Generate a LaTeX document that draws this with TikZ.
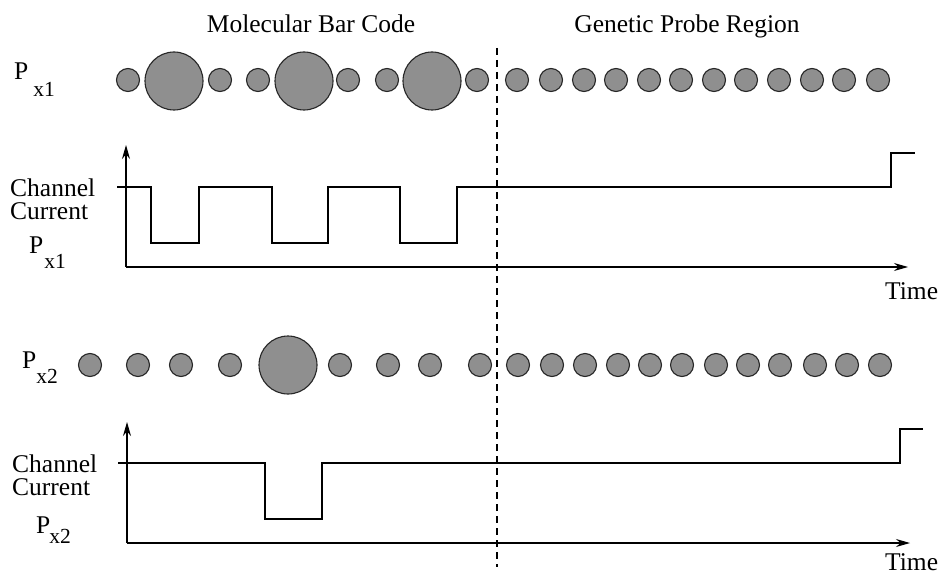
\documentclass[tikz,border=0pt]{standalone}
\usepackage{fontspec}
\setmainfont{Liberation Serif}
\usetikzlibrary{arrows.meta}
\definecolor{beadgray}{gray}{0.56}
\begin{document}
\begin{tikzpicture}[x=1pt,y=-1pt,
  txt/.style={inner sep=0pt,font=\fontsize{25.5}{28}\selectfont},
  bead/.style={circle,draw=black!85,line width=1.1pt,fill=beadgray,inner sep=0pt,minimum size=23pt},
  bigbead/.style={bead,minimum size=58pt},
  trace/.style={line width=1.2pt,line join=miter},
  axis/.style={line width=1.2pt,-{Stealth[length=14pt,width=8pt]}},
  divider/.style={line width=1.1pt,dash pattern=on 7pt off 5pt}]
\useasboundingbox (0,0) rectangle (941,575);
% subscript set a little smaller and dropped below the baseline
\newcommand{\lowsub}[2]{\raisebox{-#1}{\fontsize{21.5}{22}\selectfont #2}}

% region headings
\node[txt,anchor=base] (hbar) at (311,33) {Molecular Bar Code};
\node[txt,anchor=base] (hprobe) at (687,33) {Genetic Probe Region};

% divider between bar code and probe region
\coordinate (dtop) at (497,48);
\coordinate (dbot) at (497,567);
\draw[divider] (dtop) -- (dbot);

% ---------- molecule P_x1 ----------
\node[txt,anchor=base west] (p1) at (14,80) {P\hspace{5pt}\lowsub{17pt}{x1}};
\foreach \x [count=\i] in {128,220,258,348,387,477,517,551,584,616,649,681,714,746,779,812,844,878}
  \node[bead] (a\i) at (\x,80) {};
\foreach \x [count=\i] in {174,304,432}
  \node[bigbead] (A\i) at (\x,81) {};

% channel current trace for P_x1
\node[txt,anchor=base west] (ch1) at (10,196) {Channel};
\node[txt,anchor=base west] (cu1) at (10,219) {Current};
\node[txt,anchor=base west] (q1) at (29,253) {P\hspace{1pt}\lowsub{15pt}{x1}};
\coordinate (o1) at (126,267);
\coordinate (y1) at (126,145);
\coordinate (x1) at (908,267);
\draw[axis] (o1) -- (y1);
\draw[axis] (o1) -- (x1);
\node[txt,anchor=base west] (t1) at (885,299) {Time};
\draw[trace] (117,187) -- (151,187) -- (151,243) -- (199,243) -- (199,187)
  -- (272,187) -- (272,243) -- (328,243) -- (328,187) -- (400,187)
  -- (400,243) -- (457,243) -- (457,187) -- (891,187) -- (891,153) -- (915,153);

% ---------- molecule P_x2 ----------
\node[txt,anchor=base west] (p2) at (22,368) {P\hspace{0pt}\lowsub{15pt}{x2}};
\foreach \x [count=\i] in {90,138,181,230,340,388,430,480,518,552,585,618,650,682,716,748,780,815,847,880}
  \node[bead] (b\i) at (\x,365) {};
\node[bigbead] (B1) at (288,365) {};

% channel current trace for P_x2
\node[txt,anchor=base west] (ch2) at (12,472) {Channel};
\node[txt,anchor=base west] (cu2) at (12,495) {Current};
\node[txt,anchor=base west] (q2) at (36,533) {P\hspace{-1pt}\lowsub{10pt}{x2}};
\coordinate (o2) at (127,543);
\coordinate (y2) at (127,422);
\coordinate (x2) at (910,543);
\draw[axis] (o2) -- (y2);
\draw[axis] (o2) -- (x2);
\node[txt,anchor=base west] (t2) at (885,570) {Time};
\draw[trace] (118,463) -- (265,463) -- (265,519) -- (322,519) -- (322,463)
  -- (900,463) -- (900,429) -- (923,429);
\end{tikzpicture}
\end{document}
